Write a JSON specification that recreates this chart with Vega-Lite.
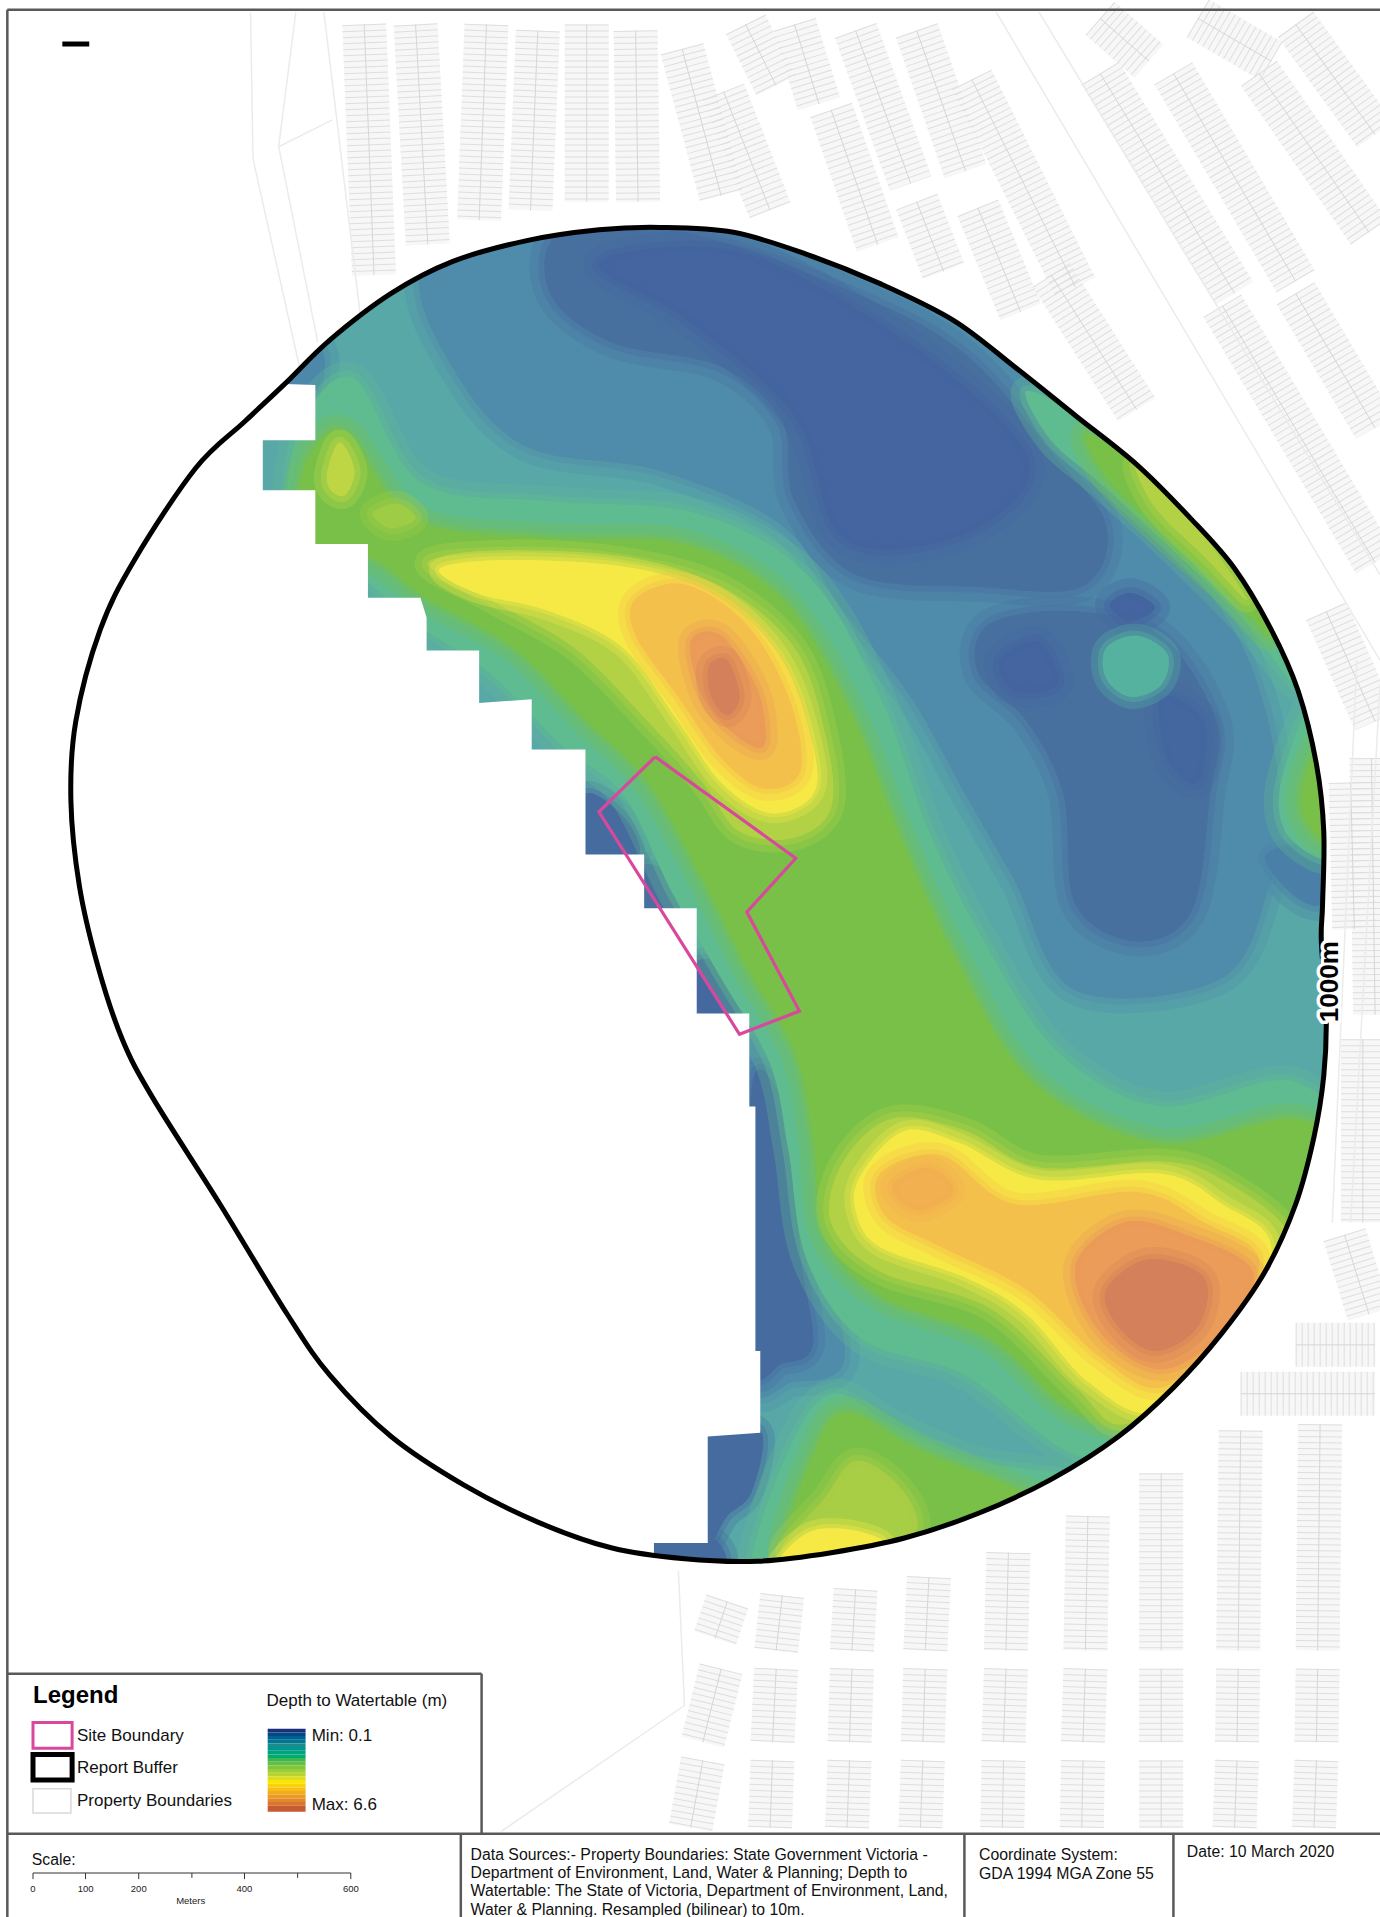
{"$schema":"https://vega.github.io/schema/vega-lite/v6.json","width":1380,"height":1917,"padding":0,"autosize":{"type":"none"},"background":"white","config":{"view":{"stroke":null},"text":{"font":"Liberation Sans"}},
"datasets":{
"bands":[
{"p":"a1","v":1.5,"x":420,"y":160},{"p":"a1","v":1.5,"x":800,"y":230},{"p":"a1","v":1.5,"x":850,"y":340},{"p":"a1","v":1.5,"x":935,"y":430},{"p":"a1","v":1.5,"x":1000,"y":500},{"p":"a1","v":1.5,"x":1035,"y":580},{"p":"a1","v":1.5,"x":1050,"y":680},{"p":"a1","v":1.5,"x":1040,"y":720},{"p":"a1","v":1.5,"x":1000,"y":800},{"p":"a1","v":1.5,"x":880,"y":810},{"p":"a1","v":1.5,"x":830,"y":720},{"p":"a1","v":1.5,"x":790,"y":650},{"p":"a1","v":1.5,"x":745,"y":570},{"p":"a1","v":1.5,"x":690,"y":500},{"p":"a1","v":1.5,"x":640,"y":430},{"p":"a1","v":1.5,"x":540,"y":385},{"p":"a1","v":1.5,"x":430,"y":365},{"p":"a1","v":1.5,"x":370,"y":300},{"p":"a1","v":1.5,"x":345,"y":220},
{"p":"a2","v":1.4,"x":225,"y":305},{"p":"a2","v":1.4,"x":262,"y":285},{"p":"a2","v":1.4,"x":260,"y":322},{"p":"a2","v":1.4,"x":225,"y":322},
{"p":"a3","v":1.2,"x":1035,"y":700},{"p":"a3","v":1.2,"x":1075,"y":692},{"p":"a3","v":1.2,"x":1082,"y":738},{"p":"a3","v":1.2,"x":1058,"y":732},
{"p":"a4","v":1.5,"x":610,"y":860},{"p":"a4","v":1.5,"x":650,"y":890},{"p":"a4","v":1.5,"x":672,"y":960},{"p":"a4","v":1.5,"x":680,"y":1040},{"p":"a4","v":1.5,"x":690,"y":1115},{"p":"a4","v":1.5,"x":650,"y":1130},{"p":"a4","v":1.5,"x":610,"y":1120},
{"p":"b1","v":0.8,"x":460,"y":190},{"p":"b1","v":0.8,"x":560,"y":190},{"p":"b1","v":0.8,"x":700,"y":240},{"p":"b1","v":0.8,"x":790,"y":290},{"p":"b1","v":0.8,"x":860,"y":370},{"p":"b1","v":0.8,"x":905,"y":430},{"p":"b1","v":0.8,"x":885,"y":480},{"p":"b1","v":0.8,"x":800,"y":480},{"p":"b1","v":0.8,"x":700,"y":470},{"p":"b1","v":0.8,"x":650,"y":410},{"p":"b1","v":0.8,"x":640,"y":345},{"p":"b1","v":0.8,"x":590,"y":300},{"p":"b1","v":0.8,"x":500,"y":280},{"p":"b1","v":0.8,"x":450,"y":240},
{"p":"b2","v":0.8,"x":810,"y":510},{"p":"b2","v":0.8,"x":880,"y":500},{"p":"b2","v":0.8,"x":950,"y":520},{"p":"b2","v":0.8,"x":995,"y":590},{"p":"b2","v":0.8,"x":990,"y":650},{"p":"b2","v":0.8,"x":975,"y":745},{"p":"b2","v":0.8,"x":930,"y":770},{"p":"b2","v":0.8,"x":880,"y":740},{"p":"b2","v":0.8,"x":870,"y":650},{"p":"b2","v":0.8,"x":840,"y":590},{"p":"b2","v":0.8,"x":800,"y":550},
{"p":"c1","v":0.3,"x":490,"y":215},{"p":"c1","v":0.3,"x":600,"y":205},{"p":"c1","v":0.3,"x":720,"y":265},{"p":"c1","v":0.3,"x":820,"y":345},{"p":"c1","v":0.3,"x":840,"y":395},{"p":"c1","v":0.3,"x":780,"y":440},{"p":"c1","v":0.3,"x":690,"y":440},{"p":"c1","v":0.3,"x":650,"y":340},{"p":"c1","v":0.3,"x":560,"y":260},
{"p":"c2","v":0.3,"x":908,"y":495},{"p":"c2","v":0.3,"x":925,"y":485},{"p":"c2","v":0.3,"x":945,"y":497},{"p":"c2","v":0.3,"x":925,"y":508},
{"p":"c3","v":0.3,"x":818,"y":540},{"p":"c3","v":0.3,"x":850,"y":525},{"p":"c3","v":0.3,"x":865,"y":560},{"p":"c3","v":0.3,"x":830,"y":565},
{"p":"c4","v":0.4,"x":950,"y":570},{"p":"c4","v":0.4,"x":985,"y":590},{"p":"c4","v":0.4,"x":980,"y":640},{"p":"c4","v":0.4,"x":955,"y":620},
{"p":"d1","v":2.3,"x":905,"y":530},{"p":"d1","v":2.3,"x":930,"y":520},{"p":"d1","v":2.3,"x":955,"y":535},{"p":"d1","v":2.3,"x":950,"y":560},{"p":"d1","v":2.3,"x":925,"y":570},{"p":"d1","v":2.3,"x":905,"y":555},
{"p":"e1","v":0.6,"x":478,"y":650},{"p":"e1","v":0.6,"x":510,"y":668},{"p":"e1","v":0.6,"x":522,"y":700},{"p":"e1","v":0.6,"x":478,"y":705},
{"p":"e2","v":0.8,"x":525,"y":708},{"p":"e2","v":0.8,"x":555,"y":718},{"p":"e2","v":0.8,"x":560,"y":746},{"p":"e2","v":0.8,"x":527,"y":746},
{"p":"e3","v":0.5,"x":568,"y":788},{"p":"e3","v":0.5,"x":600,"y":792},{"p":"e3","v":0.5,"x":612,"y":832},{"p":"e3","v":0.5,"x":568,"y":832},
{"p":"e4","v":0.6,"x":615,"y":890},{"p":"e4","v":0.6,"x":640,"y":900},{"p":"e4","v":0.6,"x":650,"y":960},{"p":"e4","v":0.6,"x":655,"y":1030},{"p":"e4","v":0.6,"x":665,"y":1100},{"p":"e4","v":0.6,"x":640,"y":1115},{"p":"e4","v":0.6,"x":615,"y":1110},
{"p":"e5","v":0.6,"x":575,"y":1170},{"p":"e5","v":0.6,"x":622,"y":1170},{"p":"e5","v":0.6,"x":615,"y":1220},{"p":"e5","v":0.6,"x":595,"y":1240},{"p":"e5","v":0.6,"x":575,"y":1265},
{"p":"e6","v":0.6,"x":530,"y":1258},{"p":"e6","v":0.6,"x":582,"y":1258},{"p":"e6","v":0.6,"x":590,"y":1282},{"p":"e6","v":0.6,"x":530,"y":1282},
{"p":"f1","v":2.6,"x":250,"y":340},{"p":"f1","v":2.6,"x":290,"y":310},{"p":"f1","v":2.6,"x":345,"y":395},{"p":"f1","v":2.6,"x":450,"y":410},{"p":"f1","v":2.6,"x":570,"y":420},{"p":"f1","v":2.6,"x":660,"y":470},{"p":"f1","v":2.6,"x":720,"y":570},{"p":"f1","v":2.6,"x":760,"y":680},{"p":"f1","v":2.6,"x":805,"y":770},{"p":"f1","v":2.6,"x":865,"y":860},{"p":"f1","v":2.6,"x":950,"y":905},{"p":"f1","v":2.6,"x":1060,"y":885},{"p":"f1","v":2.6,"x":1110,"y":960},{"p":"f1","v":2.6,"x":1080,"y":1130},{"p":"f1","v":2.6,"x":970,"y":1195},{"p":"f1","v":2.6,"x":880,"y":1190},{"p":"f1","v":2.6,"x":790,"y":1125},{"p":"f1","v":2.6,"x":705,"y":1095},{"p":"f1","v":2.6,"x":660,"y":1030},{"p":"f1","v":2.6,"x":645,"y":940},{"p":"f1","v":2.6,"x":630,"y":870},{"p":"f1","v":2.6,"x":590,"y":800},{"p":"f1","v":2.6,"x":550,"y":730},{"p":"f1","v":2.6,"x":510,"y":650},{"p":"f1","v":2.6,"x":460,"y":610},{"p":"f1","v":2.6,"x":400,"y":550},{"p":"f1","v":2.6,"x":340,"y":510},{"p":"f1","v":2.6,"x":290,"y":470},{"p":"f1","v":2.6,"x":240,"y":470},{"p":"f1","v":2.6,"x":235,"y":400},
{"p":"f2","v":2.6,"x":1080,"y":570},{"p":"f2","v":2.6,"x":1048,"y":640},{"p":"f2","v":2.6,"x":1055,"y":685},{"p":"f2","v":2.6,"x":1095,"y":695},
{"p":"f3","v":2.6,"x":840,"y":320},{"p":"f3","v":2.6,"x":890,"y":345},{"p":"f3","v":2.6,"x":950,"y":390},{"p":"f3","v":2.6,"x":1030,"y":480},{"p":"f3","v":2.6,"x":1060,"y":560},{"p":"f3","v":2.6,"x":1020,"y":510},{"p":"f3","v":2.6,"x":960,"y":450},{"p":"f3","v":2.6,"x":900,"y":395},{"p":"f3","v":2.6,"x":860,"y":360},
{"p":"f4","v":2.6,"x":615,"y":1280},{"p":"f4","v":2.6,"x":648,"y":1180},{"p":"f4","v":2.6,"x":682,"y":1140},{"p":"f4","v":2.6,"x":730,"y":1165},{"p":"f4","v":2.6,"x":800,"y":1195},{"p":"f4","v":2.6,"x":885,"y":1210},{"p":"f4","v":2.6,"x":880,"y":1245},{"p":"f4","v":2.6,"x":760,"y":1270},{"p":"f4","v":2.6,"x":650,"y":1295},
{"p":"g1","v":3.2,"x":258,"y":365},{"p":"g1","v":3.2,"x":285,"y":355},{"p":"g1","v":3.2,"x":340,"y":425},{"p":"g1","v":3.2,"x":450,"y":440},{"p":"g1","v":3.2,"x":560,"y":445},{"p":"g1","v":3.2,"x":640,"y":490},{"p":"g1","v":3.2,"x":695,"y":580},{"p":"g1","v":3.2,"x":735,"y":680},{"p":"g1","v":3.2,"x":780,"y":780},{"p":"g1","v":3.2,"x":845,"y":885},{"p":"g1","v":3.2,"x":950,"y":935},{"p":"g1","v":3.2,"x":1060,"y":915},{"p":"g1","v":3.2,"x":1100,"y":960},{"p":"g1","v":3.2,"x":1060,"y":1100},{"p":"g1","v":3.2,"x":960,"y":1165},{"p":"g1","v":3.2,"x":880,"y":1155},{"p":"g1","v":3.2,"x":810,"y":1095},{"p":"g1","v":3.2,"x":720,"y":1060},{"p":"g1","v":3.2,"x":675,"y":1010},{"p":"g1","v":3.2,"x":665,"y":930},{"p":"g1","v":3.2,"x":650,"y":860},{"p":"g1","v":3.2,"x":610,"y":790},{"p":"g1","v":3.2,"x":575,"y":720},{"p":"g1","v":3.2,"x":530,"y":640},{"p":"g1","v":3.2,"x":480,"y":590},{"p":"g1","v":3.2,"x":420,"y":530},{"p":"g1","v":3.2,"x":350,"y":490},{"p":"g1","v":3.2,"x":300,"y":455},{"p":"g1","v":3.2,"x":250,"y":455},{"p":"g1","v":3.2,"x":245,"y":400},
{"p":"g2","v":3.2,"x":1085,"y":600},{"p":"g2","v":3.2,"x":1065,"y":645},{"p":"g2","v":3.2,"x":1070,"y":675},{"p":"g2","v":3.2,"x":1090,"y":685},
{"p":"g3","v":3.2,"x":890,"y":355},{"p":"g3","v":3.2,"x":950,"y":395},{"p":"g3","v":3.2,"x":1005,"y":450},{"p":"g3","v":3.2,"x":1040,"y":520},{"p":"g3","v":3.2,"x":1000,"y":480},{"p":"g3","v":3.2,"x":950,"y":435},{"p":"g3","v":3.2,"x":905,"y":390},
{"p":"g4","v":3.2,"x":640,"y":1275},{"p":"g4","v":3.2,"x":665,"y":1190},{"p":"g4","v":3.2,"x":692,"y":1155},{"p":"g4","v":3.2,"x":750,"y":1185},{"p":"g4","v":3.2,"x":825,"y":1215},{"p":"g4","v":3.2,"x":850,"y":1232},{"p":"g4","v":3.2,"x":770,"y":1260},{"p":"g4","v":3.2,"x":680,"y":1285},
{"p":"h1","v":3.8,"x":350,"y":460},{"p":"h1","v":3.8,"x":420,"y":452},{"p":"h1","v":3.8,"x":510,"y":458},{"p":"h1","v":3.8,"x":590,"y":480},{"p":"h1","v":3.8,"x":650,"y":530},{"p":"h1","v":3.8,"x":675,"y":600},{"p":"h1","v":3.8,"x":680,"y":660},{"p":"h1","v":3.8,"x":650,"y":685},{"p":"h1","v":3.8,"x":605,"y":680},{"p":"h1","v":3.8,"x":575,"y":640},{"p":"h1","v":3.8,"x":530,"y":590},{"p":"h1","v":3.8,"x":470,"y":530},{"p":"h1","v":3.8,"x":400,"y":490},
{"p":"h2","v":3.8,"x":690,"y":950},{"p":"h2","v":3.8,"x":730,"y":915},{"p":"h2","v":3.8,"x":790,"y":925},{"p":"h2","v":3.8,"x":850,"y":955},{"p":"h2","v":3.8,"x":950,"y":950},{"p":"h2","v":3.8,"x":1000,"y":965},{"p":"h2","v":3.8,"x":1055,"y":1010},{"p":"h2","v":3.8,"x":1040,"y":1060},{"p":"h2","v":3.8,"x":990,"y":1120},{"p":"h2","v":3.8,"x":920,"y":1165},{"p":"h2","v":3.8,"x":880,"y":1135},{"p":"h2","v":3.8,"x":810,"y":1070},{"p":"h2","v":3.8,"x":720,"y":1040},{"p":"h2","v":3.8,"x":680,"y":1000},
{"p":"h3","v":3.9,"x":268,"y":385},{"p":"h3","v":3.9,"x":278,"y":362},{"p":"h3","v":3.9,"x":290,"y":385},{"p":"h3","v":3.9,"x":282,"y":405},{"p":"h3","v":3.9,"x":270,"y":400},
{"p":"h4","v":3.6,"x":305,"y":420},{"p":"h4","v":3.6,"x":325,"y":412},{"p":"h4","v":3.6,"x":340,"y":424},{"p":"h4","v":3.6,"x":320,"y":432},
{"p":"h5","v":3.8,"x":930,"y":380},{"p":"h5","v":3.8,"x":975,"y":425},{"p":"h5","v":3.8,"x":1020,"y":490},{"p":"h5","v":3.8,"x":985,"y":455},{"p":"h5","v":3.8,"x":945,"y":415},
{"p":"h6","v":3.7,"x":640,"y":1272},{"p":"h6","v":3.7,"x":675,"y":1225},{"p":"h6","v":3.7,"x":700,"y":1195},{"p":"h6","v":3.7,"x":735,"y":1215},{"p":"h6","v":3.7,"x":750,"y":1250},{"p":"h6","v":3.7,"x":715,"y":1272},
{"p":"i1","v":4.3,"x":360,"y":465},{"p":"i1","v":4.3,"x":420,"y":458},{"p":"i1","v":4.3,"x":520,"y":465},{"p":"i1","v":4.3,"x":590,"y":490},{"p":"i1","v":4.3,"x":640,"y":540},{"p":"i1","v":4.3,"x":665,"y":610},{"p":"i1","v":4.3,"x":665,"y":650},{"p":"i1","v":4.3,"x":630,"y":665},{"p":"i1","v":4.3,"x":590,"y":640},{"p":"i1","v":4.3,"x":555,"y":590},{"p":"i1","v":4.3,"x":510,"y":530},{"p":"i1","v":4.3,"x":450,"y":500},{"p":"i1","v":4.3,"x":390,"y":485},
{"p":"i2","v":4.3,"x":705,"y":960},{"p":"i2","v":4.3,"x":740,"y":925},{"p":"i2","v":4.3,"x":785,"y":935},{"p":"i2","v":4.3,"x":850,"y":965},{"p":"i2","v":4.3,"x":950,"y":960},{"p":"i2","v":4.3,"x":1000,"y":985},{"p":"i2","v":4.3,"x":1040,"y":1020},{"p":"i2","v":4.3,"x":1010,"y":1100},{"p":"i2","v":4.3,"x":945,"y":1155},{"p":"i2","v":4.3,"x":890,"y":1130},{"p":"i2","v":4.3,"x":840,"y":1075},{"p":"i2","v":4.3,"x":790,"y":1045},{"p":"i2","v":4.3,"x":720,"y":1020},{"p":"i2","v":4.3,"x":700,"y":990},
{"p":"i3","v":4.3,"x":640,"y":1272},{"p":"i3","v":4.3,"x":665,"y":1252},{"p":"i3","v":4.3,"x":700,"y":1252},{"p":"i3","v":4.3,"x":725,"y":1264},{"p":"i3","v":4.3,"x":700,"y":1285},{"p":"i3","v":4.3,"x":640,"y":1285},
{"p":"j1","v":4.9,"x":520,"y":490},{"p":"j1","v":4.9,"x":560,"y":478},{"p":"j1","v":4.9,"x":610,"y":510},{"p":"j1","v":4.9,"x":645,"y":570},{"p":"j1","v":4.9,"x":655,"y":630},{"p":"j1","v":4.9,"x":625,"y":645},{"p":"j1","v":4.9,"x":590,"y":620},{"p":"j1","v":4.9,"x":555,"y":570},{"p":"j1","v":4.9,"x":520,"y":520},
{"p":"j2","v":4.9,"x":720,"y":960},{"p":"j2","v":4.9,"x":770,"y":945},{"p":"j2","v":4.9,"x":830,"y":985},{"p":"j2","v":4.9,"x":930,"y":975},{"p":"j2","v":4.9,"x":985,"y":1000},{"p":"j2","v":4.9,"x":1030,"y":1030},{"p":"j2","v":4.9,"x":1000,"y":1090},{"p":"j2","v":4.9,"x":950,"y":1135},{"p":"j2","v":4.9,"x":900,"y":1110},{"p":"j2","v":4.9,"x":840,"y":1055},{"p":"j2","v":4.9,"x":770,"y":1020},{"p":"j2","v":4.9,"x":725,"y":995},
{"p":"k1","v":5.6,"x":565,"y":525},{"p":"k1","v":5.6,"x":590,"y":520},{"p":"k1","v":5.6,"x":620,"y":565},{"p":"k1","v":5.6,"x":625,"y":610},{"p":"k1","v":5.6,"x":600,"y":600},{"p":"k1","v":5.6,"x":575,"y":570},
{"p":"k2","v":5.6,"x":880,"y":1035},{"p":"k2","v":5.6,"x":920,"y":1000},{"p":"k2","v":5.6,"x":970,"y":1010},{"p":"k2","v":5.6,"x":1025,"y":1040},{"p":"k2","v":5.6,"x":1000,"y":1090},{"p":"k2","v":5.6,"x":950,"y":1120},{"p":"k2","v":5.6,"x":900,"y":1090},
{"p":"k3","v":5.2,"x":730,"y":970},{"p":"k3","v":5.2,"x":760,"y":955},{"p":"k3","v":5.2,"x":780,"y":975},{"p":"k3","v":5.2,"x":750,"y":990},
{"p":"l1","v":6.3,"x":580,"y":545},{"p":"l1","v":6.3,"x":595,"y":540},{"p":"l1","v":6.3,"x":605,"y":570},{"p":"l1","v":6.3,"x":595,"y":585},{"p":"l1","v":6.3,"x":582,"y":570},
{"p":"l2","v":6.3,"x":905,"y":1055},{"p":"l2","v":6.3,"x":940,"y":1030},{"p":"l2","v":6.3,"x":985,"y":1045},{"p":"l2","v":6.3,"x":980,"y":1085},{"p":"l2","v":6.3,"x":945,"y":1105},{"p":"l2","v":6.3,"x":915,"y":1085}
],
"mask":[{"x":0,"y":0},{"x":0,"y":1568},{"x":1129,"y":1568},{"x":1129,"y":0},{"x":0,"y":0},{"x":233,"y":314},{"x":270,"y":278},{"x":320,"y":240},{"x":370,"y":214},{"x":430,"y":197},{"x":490,"y":188},{"x":540,"y":186},{"x":600,"y":190},{"x":660,"y":208},{"x":720,"y":232},{"x":780,"y":262},{"x":830,"y":300},{"x":880,"y":340},{"x":930,"y":380},{"x":975,"y":425},{"x":1010,"y":465},{"x":1040,"y":515},{"x":1062,"y":565},{"x":1077,"y":625},{"x":1083,"y":680},{"x":1082,"y":740},{"x":1081,"y":770},{"x":1085,"y":830},{"x":1083,"y":880},{"x":1075,"y":930},{"x":1060,"y":985},{"x":1035,"y":1040},{"x":1000,"y":1090},{"x":960,"y":1135},{"x":915,"y":1175},{"x":860,"y":1210},{"x":800,"y":1238},{"x":740,"y":1258},{"x":680,"y":1270},{"x":620,"y":1277},{"x":580,"y":1276},{"x":535,"y":1272},{"x":535,"y":1262},{"x":579,"y":1262},{"x":579,"y":1175},{"x":622,"y":1172},{"x":622,"y":1105},{"x":618,"y":1105},{"x":618,"y":905},{"x":613,"y":905},{"x":613,"y":829},{"x":570,"y":829},{"x":570,"y":743},{"x":527,"y":743},{"x":527,"y":699},{"x":479,"y":699},{"x":479,"y":613},{"x":435,"y":613},{"x":435,"y":572},{"x":392,"y":575},{"x":392,"y":532},{"x":349,"y":532},{"x":349,"y":505},{"x":344,"y":489},{"x":301,"y":489},{"x":301,"y":445},{"x":258,"y":445},{"x":258,"y":401},{"x":215,"y":401},{"x":215,"y":360},{"x":258,"y":360},{"x":258,"y":315},{"x":233,"y":314},{"x":0,"y":0}],
"buffer":[{"x":540,"y":186},{"x":600,"y":190},{"x":660,"y":208},{"x":720,"y":232},{"x":780,"y":262},{"x":830,"y":300},{"x":880,"y":340},{"x":930,"y":380},{"x":975,"y":425},{"x":1010,"y":465},{"x":1040,"y":515},{"x":1062,"y":565},{"x":1077,"y":625},{"x":1083,"y":680},{"x":1082,"y":740},{"x":1081,"y":770},{"x":1085,"y":830},{"x":1083,"y":880},{"x":1075,"y":930},{"x":1060,"y":985},{"x":1035,"y":1040},{"x":1000,"y":1090},{"x":960,"y":1135},{"x":915,"y":1175},{"x":860,"y":1210},{"x":800,"y":1238},{"x":740,"y":1258},{"x":680,"y":1270},{"x":620,"y":1277},{"x":560,"y":1275},{"x":500,"y":1266},{"x":440,"y":1245},{"x":380,"y":1215},{"x":320,"y":1175},{"x":270,"y":1125},{"x":235,"y":1075},{"x":180,"y":985},{"x":125,"y":898},{"x":100,"y":850},{"x":80,"y":790},{"x":65,"y":725},{"x":58,"y":655},{"x":62,"y":590},{"x":82,"y":515},{"x":110,"y":458},{"x":160,"y":383},{"x":200,"y":345},{"x":233,"y":314},{"x":270,"y":278},{"x":320,"y":240},{"x":370,"y":214},{"x":430,"y":197},{"x":490,"y":188}],
"site":[{"x":536,"y":619},{"x":651,"y":702},{"x":611,"y":746},{"x":654,"y":827},{"x":605,"y":846},{"x":490,"y":664},{"x":536,"y":619}],
"parcels":[{"x":298,"y":20,"x2":306,"y2":225},{"x":340,"y":20,"x2":350,"y2":200},{"x":398,"y":20,"x2":392,"y2":180},{"x":440,"y":25,"x2":434,"y2":172},{"x":480,"y":20,"x2":480,"y2":165},{"x":520,"y":25,"x2":522,"y2":165},{"x":558,"y":40,"x2":590,"y2":160},{"x":592,"y":75,"x2":630,"y2":172},{"x":610,"y":20,"x2":635,"y2":70},{"x":650,"y":20,"x2":670,"y2":85},{"x":680,"y":90,"x2":718,"y2":200},{"x":700,"y":25,"x2":745,"y2":150},{"x":750,"y":25,"x2":790,"y2":140},{"x":750,"y":165,"x2":772,"y2":222},{"x":795,"y":65,"x2":880,"y2":235},{"x":800,"y":170,"x2":835,"y2":255},{"x":860,"y":225,"x2":930,"y2":335},{"x":900,"y":60,"x2":1010,"y2":240},{"x":960,"y":60,"x2":1060,"y2":230},{"x":1030,"y":60,"x2":1120,"y2":190},{"x":900,"y":15,"x2":940,"y2":50},{"x":980,"y":15,"x2":1040,"y2":50},{"x":1060,"y":20,"x2":1125,"y2":110},{"x":1000,"y":250,"x2":1125,"y2":460},{"x":1060,"y":240,"x2":1125,"y2":350},{"x":1085,"y":500,"x2":1125,"y2":590},{"x":1105,"y":640,"x2":1108,"y2":760},{"x":1122,"y":620,"x2":1125,"y2":830},{"x":1115,"y":850,"x2":1115,"y2":1000},{"x":1100,"y":1010,"x2":1120,"y2":1075},{"x":1060,"y":1100,"x2":1125,"y2":1100},{"x":1015,"y":1140,"x2":1125,"y2":1140},{"x":595,"y":1310,"x2":585,"y2":1340},{"x":640,"y":1305,"x2":635,"y2":1350},{"x":700,"y":1300,"x2":697,"y2":1350},{"x":760,"y":1290,"x2":757,"y2":1350},{"x":825,"y":1270,"x2":823,"y2":1350},{"x":890,"y":1240,"x2":888,"y2":1350},{"x":950,"y":1205,"x2":950,"y2":1350},{"x":1015,"y":1170,"x2":1013,"y2":1350},{"x":1080,"y":1165,"x2":1078,"y2":1350},{"x":635,"y":1365,"x2":632,"y2":1425},{"x":697,"y":1365,"x2":695,"y2":1425},{"x":757,"y":1365,"x2":755,"y2":1425},{"x":823,"y":1365,"x2":821,"y2":1425},{"x":888,"y":1365,"x2":886,"y2":1425},{"x":950,"y":1365,"x2":950,"y2":1425},{"x":1013,"y":1365,"x2":1012,"y2":1425},{"x":1078,"y":1365,"x2":1077,"y2":1425},{"x":590,"y":1365,"x2":575,"y2":1425},{"x":632,"y":1440,"x2":630,"y2":1495},{"x":695,"y":1440,"x2":693,"y2":1495},{"x":755,"y":1440,"x2":753,"y2":1495},{"x":821,"y":1440,"x2":820,"y2":1495},{"x":886,"y":1440,"x2":885,"y2":1495},{"x":950,"y":1440,"x2":950,"y2":1495},{"x":1012,"y":1440,"x2":1010,"y2":1495},{"x":1077,"y":1440,"x2":1075,"y2":1495},{"x":575,"y":1440,"x2":565,"y2":1495}],
"thin":[{"x":205,"y":10,"x2":207,"y2":130},{"x":207,"y":130,"x2":245,"y2":300},{"x":242,"y":10,"x2":228,"y2":120},{"x":228,"y":120,"x2":260,"y2":280},{"x":265,"y":10,"x2":295,"y2":260},{"x":228,"y":120,"x2":272,"y2":98},{"x":410,"y":1498,"x2":560,"y2":1395},{"x":560,"y":1395,"x2":555,"y2":1285},{"x":815,"y":10,"x2":1129,"y2":540},{"x":850,"y":10,"x2":1129,"y2":470},{"x":1110,"y":540,"x2":1090,"y2":1000},{"x":1129,"y":560,"x2":1105,"y2":1000}],
"frameH":[{"x":6,"x2":1129,"y":8},{"x":6,"x2":394,"y":1369},{"x":6,"x2":1129,"y":1500}],
"frameV":[{"x":6,"y":8,"y2":1568},{"x":394,"y":1369,"y2":1500},{"x":377,"y":1500,"y2":1568},{"x":789,"y":1500,"y2":1568},{"x":960,"y":1500,"y2":1568}],
"scaleH":[{"x":27,"x2":287,"y":1532}],
"scaleT":[{"x":27,"y":1532,"y2":1537},{"x":70,"y":1532,"y2":1537},{"x":113.5,"y":1532,"y2":1537},{"x":157,"y":1532,"y2":1536},{"x":200,"y":1532,"y2":1537},{"x":243.5,"y":1532,"y2":1536},{"x":287,"y":1532,"y2":1537}],
"dash":[{"x":51,"x2":73,"y":36}],
"ramp":[{"x":219,"x2":250,"y":1414,"y2":1417,"v":0.1},{"x":219,"x2":250,"y":1417,"y2":1420,"v":0.4},{"x":219,"x2":250,"y":1420,"y2":1423,"v":0.7},{"x":219,"x2":250,"y":1423,"y2":1426,"v":1},{"x":219,"x2":250,"y":1426,"y2":1429,"v":1.3},{"x":219,"x2":250,"y":1429,"y2":1432,"v":1.6},{"x":219,"x2":250,"y":1432,"y2":1435,"v":1.9},{"x":219,"x2":250,"y":1435,"y2":1438,"v":2.2},{"x":219,"x2":250,"y":1438,"y2":1441,"v":2.5},{"x":219,"x2":250,"y":1441,"y2":1444,"v":2.8},{"x":219,"x2":250,"y":1444,"y2":1447,"v":3.1},{"x":219,"x2":250,"y":1447,"y2":1450,"v":3.4},{"x":219,"x2":250,"y":1450,"y2":1453,"v":3.7},{"x":219,"x2":250,"y":1453,"y2":1456,"v":4},{"x":219,"x2":250,"y":1456,"y2":1459,"v":4.3},{"x":219,"x2":250,"y":1459,"y2":1462,"v":4.6},{"x":219,"x2":250,"y":1462,"y2":1465,"v":4.9},{"x":219,"x2":250,"y":1465,"y2":1468,"v":5.2},{"x":219,"x2":250,"y":1468,"y2":1471,"v":5.5},{"x":219,"x2":250,"y":1471,"y2":1474,"v":5.8},{"x":219,"x2":250,"y":1474,"y2":1477,"v":6.1},{"x":219,"x2":250,"y":1477,"y2":1482,"v":6.6}],
"legendText":[{"t":"Depth to Watertable (m)","x":218,"y":1391},{"t":"Site Boundary","x":63,"y":1420},{"t":"Report Buffer","x":63,"y":1446},{"t":"Property Boundaries","x":63,"y":1473},{"t":"Min: 0.1","x":255,"y":1420},{"t":"Max: 6.6","x":255,"y":1476}],
"body":[{"t":"Scale:","x":26,"y":1521},{"t":"Data Sources:- Property Boundaries:  State Government Victoria -","x":385,"y":1517},{"t":"Department of Environment, Land, Water & Planning; Depth to","x":385,"y":1532},{"t":"Watertable: The State of Victoria, Department of Environment, Land,","x":385,"y":1547},{"t":"Water & Planning. Resampled (bilinear) to 10m.","x":385,"y":1562},{"t":"Coordinate System:","x":801,"y":1517},{"t":"GDA 1994 MGA Zone 55","x":801,"y":1533},{"t":"Date: 10 March 2020","x":971,"y":1515}],
"small":[{"t":"0","x":27,"y":1545},{"t":"100","x":70,"y":1545},{"t":"200","x":113.5,"y":1545},{"t":"400","x":200,"y":1545},{"t":"600","x":287,"y":1545},{"t":"Meters","x":156,"y":1555}]
},
"data":{"name":"bands"},
"encoding":{"x":{"field":"x","type":"quantitative","axis":null,"scale":{"domain":[0,1129],"nice":false,"zero":false}},"y":{"field":"y","type":"quantitative","axis":null,"scale":{"domain":[1568,0],"nice":false,"zero":false}}},
"layer":[
{"data":{"values":[{"x":0,"x2":1129,"y":0,"y2":1568}]},"mark":{"type":"rect","fill":"#58a8a8"},"encoding":{"x2":{"field":"x2"},"y2":{"field":"y2"}}},
{"transform":[{"filter":"datum.p[0]=='a'"},{"window":[{"op":"row_number","as":"i"}]}],"mark":{"type":"line","interpolate":"cardinal-closed","strokeWidth":30,"strokeOpacity":0.3,"clip":true},"encoding":{"fill":{"field":"v","type":"quantitative","legend":null,"scale":{"domain":[0.1,0.8,1.5,2,2.6,3.2,3.8,4.3,4.9,5.6,6.6],"range":["#44609f","#48709f","#4f8cab","#58a8a8","#5fbb90","#78c048","#b2d145","#f6e945","#f4c04c","#ea9c58","#c9755c"]}},"stroke":{"field":"v","type":"quantitative","legend":null,"scale":{"domain":[0.1,0.8,1.5,2,2.6,3.2,3.8,4.3,4.9,5.6,6.6],"range":["#44609f","#48709f","#4f8cab","#58a8a8","#5fbb90","#78c048","#b2d145","#f6e945","#f4c04c","#ea9c58","#c9755c"]}},"detail":{"field":"p"},"order":{"field":"i"}}},
{"transform":[{"filter":"datum.p[0]=='a'"},{"window":[{"op":"row_number","as":"i"}]}],"mark":{"type":"line","interpolate":"cardinal-closed","strokeWidth":12,"strokeOpacity":0.4,"clip":true},"encoding":{"fill":{"field":"v","type":"quantitative","legend":null},"stroke":{"field":"v","type":"quantitative","legend":null},"detail":{"field":"p"},"order":{"field":"i"}}},
{"transform":[{"filter":"datum.p[0]=='b'"},{"window":[{"op":"row_number","as":"i"}]}],"mark":{"type":"line","interpolate":"cardinal-closed","strokeWidth":30,"strokeOpacity":0.3,"clip":true},"encoding":{"fill":{"field":"v","type":"quantitative","legend":null},"stroke":{"field":"v","type":"quantitative","legend":null},"detail":{"field":"p"},"order":{"field":"i"}}},
{"transform":[{"filter":"datum.p[0]=='b'"},{"window":[{"op":"row_number","as":"i"}]}],"mark":{"type":"line","interpolate":"cardinal-closed","strokeWidth":12,"strokeOpacity":0.4,"clip":true},"encoding":{"fill":{"field":"v","type":"quantitative","legend":null},"stroke":{"field":"v","type":"quantitative","legend":null},"detail":{"field":"p"},"order":{"field":"i"}}},
{"transform":[{"filter":"datum.p[0]=='c'"},{"window":[{"op":"row_number","as":"i"}]}],"mark":{"type":"line","interpolate":"cardinal-closed","strokeWidth":30,"strokeOpacity":0.3,"clip":true},"encoding":{"fill":{"field":"v","type":"quantitative","legend":null},"stroke":{"field":"v","type":"quantitative","legend":null},"detail":{"field":"p"},"order":{"field":"i"}}},
{"transform":[{"filter":"datum.p[0]=='c'"},{"window":[{"op":"row_number","as":"i"}]}],"mark":{"type":"line","interpolate":"cardinal-closed","strokeWidth":12,"strokeOpacity":0.4,"clip":true},"encoding":{"fill":{"field":"v","type":"quantitative","legend":null},"stroke":{"field":"v","type":"quantitative","legend":null},"detail":{"field":"p"},"order":{"field":"i"}}},
{"transform":[{"filter":"datum.p[0]=='d'||datum.p[0]=='e'"},{"window":[{"op":"row_number","as":"i"}]}],"mark":{"type":"line","interpolate":"cardinal-closed","strokeWidth":24,"strokeOpacity":0.3,"clip":true},"encoding":{"fill":{"field":"v","type":"quantitative","legend":null},"stroke":{"field":"v","type":"quantitative","legend":null},"detail":{"field":"p"},"order":{"field":"i"}}},
{"transform":[{"filter":"datum.p[0]=='d'||datum.p[0]=='e'"},{"window":[{"op":"row_number","as":"i"}]}],"mark":{"type":"line","interpolate":"cardinal-closed","strokeWidth":10,"strokeOpacity":0.4,"clip":true},"encoding":{"fill":{"field":"v","type":"quantitative","legend":null},"stroke":{"field":"v","type":"quantitative","legend":null},"detail":{"field":"p"},"order":{"field":"i"}}},
{"transform":[{"filter":"datum.p[0]=='f'"},{"window":[{"op":"row_number","as":"i"}]}],"mark":{"type":"line","interpolate":"cardinal-closed","strokeWidth":30,"strokeOpacity":0.3,"clip":true},"encoding":{"fill":{"field":"v","type":"quantitative","legend":null},"stroke":{"field":"v","type":"quantitative","legend":null},"detail":{"field":"p"},"order":{"field":"i"}}},
{"transform":[{"filter":"datum.p[0]=='f'"},{"window":[{"op":"row_number","as":"i"}]}],"mark":{"type":"line","interpolate":"cardinal-closed","strokeWidth":12,"strokeOpacity":0.4,"clip":true},"encoding":{"fill":{"field":"v","type":"quantitative","legend":null},"stroke":{"field":"v","type":"quantitative","legend":null},"detail":{"field":"p"},"order":{"field":"i"}}},
{"transform":[{"filter":"datum.p[0]=='g'"},{"window":[{"op":"row_number","as":"i"}]}],"mark":{"type":"line","interpolate":"cardinal-closed","strokeWidth":30,"strokeOpacity":0.3,"clip":true},"encoding":{"fill":{"field":"v","type":"quantitative","legend":null},"stroke":{"field":"v","type":"quantitative","legend":null},"detail":{"field":"p"},"order":{"field":"i"}}},
{"transform":[{"filter":"datum.p[0]=='g'"},{"window":[{"op":"row_number","as":"i"}]}],"mark":{"type":"line","interpolate":"cardinal-closed","strokeWidth":12,"strokeOpacity":0.4,"clip":true},"encoding":{"fill":{"field":"v","type":"quantitative","legend":null},"stroke":{"field":"v","type":"quantitative","legend":null},"detail":{"field":"p"},"order":{"field":"i"}}},
{"transform":[{"filter":"datum.p[0]=='h'"},{"window":[{"op":"row_number","as":"i"}]}],"mark":{"type":"line","interpolate":"cardinal-closed","strokeWidth":26,"strokeOpacity":0.3,"clip":true},"encoding":{"fill":{"field":"v","type":"quantitative","legend":null},"stroke":{"field":"v","type":"quantitative","legend":null},"detail":{"field":"p"},"order":{"field":"i"}}},
{"transform":[{"filter":"datum.p[0]=='h'"},{"window":[{"op":"row_number","as":"i"}]}],"mark":{"type":"line","interpolate":"cardinal-closed","strokeWidth":12,"strokeOpacity":0.4,"clip":true},"encoding":{"fill":{"field":"v","type":"quantitative","legend":null},"stroke":{"field":"v","type":"quantitative","legend":null},"detail":{"field":"p"},"order":{"field":"i"}}},
{"transform":[{"filter":"datum.p[0]=='i'"},{"window":[{"op":"row_number","as":"i"}]}],"mark":{"type":"line","interpolate":"cardinal-closed","strokeWidth":20,"strokeOpacity":0.3,"clip":true},"encoding":{"fill":{"field":"v","type":"quantitative","legend":null},"stroke":{"field":"v","type":"quantitative","legend":null},"detail":{"field":"p"},"order":{"field":"i"}}},
{"transform":[{"filter":"datum.p[0]=='i'"},{"window":[{"op":"row_number","as":"i"}]}],"mark":{"type":"line","interpolate":"cardinal-closed","strokeWidth":8,"strokeOpacity":0.4,"clip":true},"encoding":{"fill":{"field":"v","type":"quantitative","legend":null},"stroke":{"field":"v","type":"quantitative","legend":null},"detail":{"field":"p"},"order":{"field":"i"}}},
{"transform":[{"filter":"datum.p[0]=='j'"},{"window":[{"op":"row_number","as":"i"}]}],"mark":{"type":"line","interpolate":"cardinal-closed","strokeWidth":24,"strokeOpacity":0.3,"clip":true},"encoding":{"fill":{"field":"v","type":"quantitative","legend":null},"stroke":{"field":"v","type":"quantitative","legend":null},"detail":{"field":"p"},"order":{"field":"i"}}},
{"transform":[{"filter":"datum.p[0]=='j'"},{"window":[{"op":"row_number","as":"i"}]}],"mark":{"type":"line","interpolate":"cardinal-closed","strokeWidth":10,"strokeOpacity":0.4,"clip":true},"encoding":{"fill":{"field":"v","type":"quantitative","legend":null},"stroke":{"field":"v","type":"quantitative","legend":null},"detail":{"field":"p"},"order":{"field":"i"}}},
{"transform":[{"filter":"datum.p[0]=='k'"},{"window":[{"op":"row_number","as":"i"}]}],"mark":{"type":"line","interpolate":"cardinal-closed","strokeWidth":24,"strokeOpacity":0.3,"clip":true},"encoding":{"fill":{"field":"v","type":"quantitative","legend":null},"stroke":{"field":"v","type":"quantitative","legend":null},"detail":{"field":"p"},"order":{"field":"i"}}},
{"transform":[{"filter":"datum.p[0]=='k'"},{"window":[{"op":"row_number","as":"i"}]}],"mark":{"type":"line","interpolate":"cardinal-closed","strokeWidth":10,"strokeOpacity":0.4,"clip":true},"encoding":{"fill":{"field":"v","type":"quantitative","legend":null},"stroke":{"field":"v","type":"quantitative","legend":null},"detail":{"field":"p"},"order":{"field":"i"}}},
{"transform":[{"filter":"datum.p[0]=='l'"},{"window":[{"op":"row_number","as":"i"}]}],"mark":{"type":"line","interpolate":"cardinal-closed","strokeWidth":24,"strokeOpacity":0.3,"clip":true},"encoding":{"fill":{"field":"v","type":"quantitative","legend":null},"stroke":{"field":"v","type":"quantitative","legend":null},"detail":{"field":"p"},"order":{"field":"i"}}},
{"transform":[{"filter":"datum.p[0]=='l'"},{"window":[{"op":"row_number","as":"i"}]}],"mark":{"type":"line","interpolate":"cardinal-closed","strokeWidth":10,"strokeOpacity":0.4,"clip":true},"encoding":{"fill":{"field":"v","type":"quantitative","legend":null},"stroke":{"field":"v","type":"quantitative","legend":null},"detail":{"field":"p"},"order":{"field":"i"}}},
{"data":{"name":"mask"},"transform":[{"window":[{"op":"row_number","as":"i"}]}],"mark":{"type":"line","fill":"white","strokeWidth":0},"encoding":{"order":{"field":"i"}}},
{"data":{"name":"parcels"},"mark":{"type":"rule","stroke":"#f7f7f7","strokeWidth":44},"encoding":{"x2":{"field":"x2"},"y2":{"field":"y2"}}},
{"data":{"name":"parcels"},"mark":{"type":"rule","stroke":"#dedede","strokeWidth":44,"strokeDash":[1,5]},"encoding":{"x2":{"field":"x2"},"y2":{"field":"y2"}}},
{"data":{"name":"parcels"},"mark":{"type":"rule","stroke":"#d6d6d6","strokeWidth":1},"encoding":{"x2":{"field":"x2"},"y2":{"field":"y2"}}},
{"data":{"name":"thin"},"mark":{"type":"rule","stroke":"#ebebeb","strokeWidth":1.5},"encoding":{"x2":{"field":"x2"},"y2":{"field":"y2"}}},
{"data":{"name":"buffer"},"transform":[{"window":[{"op":"row_number","as":"i"}]}],"mark":{"type":"line","interpolate":"cardinal-closed","stroke":"black","strokeWidth":5},"encoding":{"order":{"field":"i"}}},
{"data":{"name":"site"},"transform":[{"window":[{"op":"row_number","as":"i"}]}],"mark":{"type":"line","stroke":"#d9489c","strokeWidth":3.2,"strokeJoin":"miter"},"encoding":{"order":{"field":"i"}}},
{"data":{"values":[{"t":"1000m","x":1088,"y":803}]},"mark":{"type":"text","angle":270,"font":"Liberation Sans","fontWeight":"bold","fontSize":26,"stroke":"white","strokeWidth":7,"strokeJoin":"round","align":"center","baseline":"middle"},"encoding":{"text":{"field":"t"}}},
{"data":{"values":[{"t":"1000m","x":1088,"y":803}]},"mark":{"type":"text","angle":270,"font":"Liberation Sans","fontWeight":"bold","fontSize":26,"fill":"black","align":"center","baseline":"middle"},"encoding":{"text":{"field":"t"}}},
{"data":{"name":"dash"},"mark":{"type":"rule","stroke":"black","strokeWidth":5},"encoding":{"x2":{"field":"x2"}}},
{"data":{"name":"frameH"},"mark":{"type":"rule","stroke":"#595959","strokeWidth":2.5},"encoding":{"x2":{"field":"x2"}}},
{"data":{"name":"frameV"},"mark":{"type":"rule","stroke":"#595959","strokeWidth":2.5},"encoding":{"y2":{"field":"y2"}}},
{"data":{"name":"ramp"},"mark":{"type":"rect"},"encoding":{"x2":{"field":"x2"},"y2":{"field":"y2"},"color":{"field":"v","type":"quantitative","legend":null,"scale":{"domain":[0.1,1.3,2.6,3.7,4.3,5.4,6.6],"range":["#1c2f78","#1d8a90","#4fb848","#b9d430","#fbe600","#eda024","#c65a32"]}}}},
{"data":{"values":[{"x":27,"x2":59,"y":1409,"y2":1430}]},"mark":{"type":"rect","fill":"white","stroke":"#d9489c","strokeWidth":3},"encoding":{"x2":{"field":"x2"},"y2":{"field":"y2"}}},
{"data":{"values":[{"x":27,"x2":59,"y":1435,"y2":1456}]},"mark":{"type":"rect","fill":"white","stroke":"black","strokeWidth":5},"encoding":{"x2":{"field":"x2"},"y2":{"field":"y2"}}},
{"data":{"values":[{"x":27,"x2":58,"y":1463,"y2":1483}]},"mark":{"type":"rect","fill":"white","stroke":"#d9d9d9","strokeWidth":1.5},"encoding":{"x2":{"field":"x2"},"y2":{"field":"y2"}}},
{"data":{"name":"scaleH"},"mark":{"type":"rule","stroke":"#333","strokeWidth":1.2},"encoding":{"x2":{"field":"x2"}}},
{"data":{"name":"scaleT"},"mark":{"type":"rule","stroke":"#333","strokeWidth":1},"encoding":{"y2":{"field":"y2"}}},
{"data":{"values":[{"t":"Legend","x":27,"y":1387}]},"mark":{"type":"text","font":"Liberation Sans","fontWeight":"bold","fontSize":24,"align":"left","baseline":"middle","fill":"black"},"encoding":{"text":{"field":"t"}}},
{"data":{"name":"legendText"},"mark":{"type":"text","font":"Liberation Sans","fontSize":17,"align":"left","baseline":"middle","fill":"#111"},"encoding":{"text":{"field":"t"}}},
{"data":{"name":"body"},"mark":{"type":"text","font":"Liberation Sans","fontSize":15.8,"align":"left","baseline":"middle","fill":"#111"},"encoding":{"text":{"field":"t"}}},
{"data":{"name":"small"},"mark":{"type":"text","font":"Liberation Sans","fontSize":9.5,"align":"center","baseline":"middle","fill":"#222"},"encoding":{"text":{"field":"t"}}}
]}
